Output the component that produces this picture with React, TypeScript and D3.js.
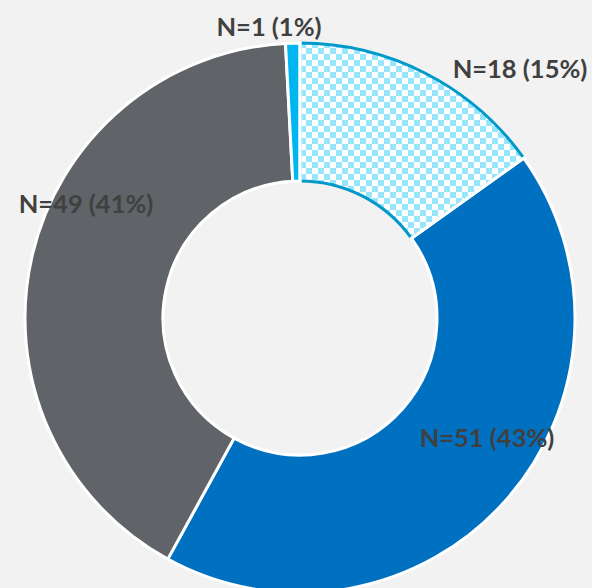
import React, { useEffect } from "react";
import * as d3 from "d3";

const categories = ["N=18 (15%)", "N=51 (43%)", "N=49 (41%)", "N=1 (1%)"];
const values = [18, 51, 49, 1];
const labelOffsets: [number, number][] = [
  [220, -250],
  [187, 119],
  [-214, -115],
  [-31, -292],
];

const W = 592;
const H = 588;
const CX = 300;
const CY = 318;
const R_OUT = 275;
const R_IN = 137;

const fills = ["url(#checker)", "#0070c0", "#606367", "#00b6f0"];

export default function App() {
  useEffect(() => {
    document.body.style.margin = "0";
  }, []);
  const pie = d3.pie<number>().sort(null).value((d) => d);
  const arcs = pie(values);
  const arc = d3.arc<d3.PieArcDatum<number>>().innerRadius(R_IN).outerRadius(R_OUT);
  const rad = (a: number): [number, number] => [Math.sin(a), -Math.cos(a)];
  const chk = arcs[0];
  return (
    <svg width={W} height={H} style={{ display: "block", position: "absolute", left: 0, top: 0 }}>
      <defs>
        <pattern id="checker" width={12} height={12} patternUnits="userSpaceOnUse">
          <rect width={12} height={12} fill="#ffffff" />
          <rect width={6} height={6} fill="#98e6fe" />
          <rect x={6} y={6} width={6} height={6} fill="#98e6fe" />
        </pattern>
      </defs>
      <rect width={W} height={H} fill="#f2f2f2" />
      <g transform={`translate(${CX},${CY})`}>
        {arcs.map((a, i) => (
          <path
            key={i}
            d={arc(a) || ""}
            fill={fills[i]}
            stroke={i === 0 ? "#0099c9" : "#ffffff"}
            strokeWidth={3}
            strokeLinejoin="round"
          />
        ))}
        {[chk.startAngle, chk.endAngle].map((ang, i) => {
          const [s, c] = rad(ang);
          return (
            <line
              key={"r" + i}
              x1={s * (R_IN - 2)}
              y1={c * (R_IN - 2)}
              x2={s * (R_OUT + 2)}
              y2={c * (R_OUT + 2)}
              stroke="#ffffff"
              strokeWidth={3}
            />
          );
        })}
        {arcs.map((a, i) => (
          <text
            key={"t" + i}
            x={labelOffsets[i][0]}
            y={labelOffsets[i][1]}
            textAnchor="middle"
            dominantBaseline="central"
            fontFamily="Lato, 'Open Sans', sans-serif"
            fontWeight="bold"
            fontSize={25.5}
            fill="#404040"
          >
            {categories[i]}
          </text>
        ))}
      </g>
    </svg>
  );
}
